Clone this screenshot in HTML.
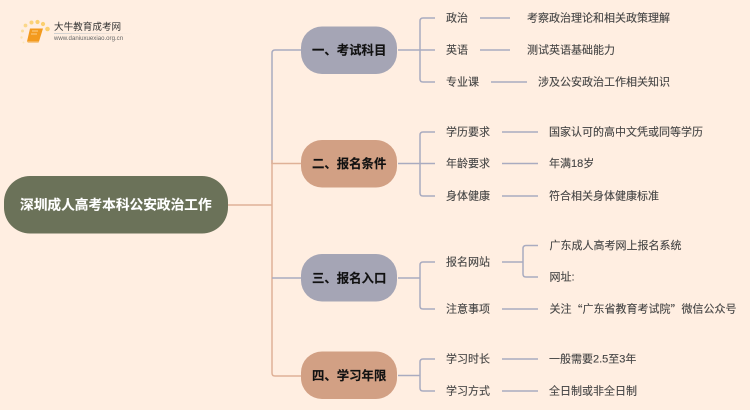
<!DOCTYPE html>
<html lang="zh">
<head>
<meta charset="utf-8">
<style>
html,body{margin:0;padding:0;background:#FFEEE1;}
svg{display:block;}
text{font-family:"Liberation Sans","Noto Sans CJK SC",sans-serif;transform:translateY(.7px);}
.l{font-size:11px;fill:#444;stroke:#444;stroke-width:.12;dominant-baseline:central;}
.b{font-size:12.4px;font-weight:700;fill:#111;stroke:#111;stroke-width:.15;dominant-baseline:central;}
.r{font-size:13.7px;font-weight:700;fill:#fff;stroke:#fff;stroke-width:.12;dominant-baseline:central;}
.v{fill:none;stroke:#A9ABC0;stroke-width:1.5;}
.p{fill:none;stroke:#DFB197;stroke-width:1.5;}
</style>
</head>
<body>
<svg width="750" height="410" viewBox="0 0 750 410" xmlns="http://www.w3.org/2000/svg">
<defs>
<linearGradient id="rule" x1="0" x2="1" y1="0" y2="0">
<stop offset="0" stop-color="#cfcfcf"/><stop offset="1" stop-color="#cfcfcf" stop-opacity="0"/>
</linearGradient>
</defs>
<rect width="750" height="410" fill="#FFEEE1"/>

<!-- logo -->
<g>
<circle cx="25.5" cy="25.5" r="1.9" fill="#FBD78A"/>
<circle cx="22.5" cy="31" r="1.5" fill="#FBDD9B"/>
<circle cx="21.5" cy="37.5" r="1.2" fill="#FBE3B0"/>
<circle cx="23.5" cy="42.5" r="1" fill="#FBE7BC"/>
<circle cx="31.5" cy="22.5" r="2" fill="#FBD278"/>
<circle cx="37.5" cy="22" r="2.1" fill="#FBCF6E"/>
<circle cx="43" cy="24" r="2.1" fill="#FBCF6E"/>
<circle cx="47.5" cy="29" r="2.3" fill="#FBCF6E"/>
<path d="M30 28.5H43L39 41.5H27Z" fill="#F39A1E"/>
<path d="M27 41.5H39L38.5 43H28Z" fill="#F7C98C"/>
<path d="M32 31H38M31 34H37" stroke="#FBCF8A" stroke-width="1" fill="none"/>
<text x="54" y="27" style="font-size:9.6px;fill:#333;dominant-baseline:central">大牛教育成考网</text>
<rect x="54" y="33" width="78" height="1" fill="url(#rule)"/>
<text x="54" y="38" style="font-size:6.1px;fill:#666;dominant-baseline:central">www.daniuxuexiao.org.cn</text>
</g>

<!-- trunk -->
<path class="v" d="M301 50H275Q272 50 272 53V164"/>
<path class="p" d="M272 160V373Q272 376 275 376H301"/>
<path class="p" d="M228 205H272"/>
<path class="p" d="M272 163.5H301"/>
<path class="v" d="M272 278H301"/>

<!-- branch 1 connectors -->
<path class="v" d="M398 50H435M435 18H423Q420 18 420 21V79Q420 82 423 82H435"/>
<path class="v" d="M480 18H510M480 50H510M491 82H527"/>
<!-- branch 2 connectors -->
<path class="v" d="M398 163.5H435M435 132H423Q420 132 420 135V193Q420 196 423 196H435"/>
<path class="v" d="M502 132H538M502 163.5H538M502 196H538"/>
<!-- branch 3 connectors -->
<path class="v" d="M398 278H420M435 262H423Q420 262 420 265V306Q420 309 423 309H435"/>
<path class="v" d="M502 262H523M538 245.5H526Q523 245.5 523 248.5V274Q523 277 526 277H538M502 309H538"/>
<!-- branch 4 connectors -->
<path class="v" d="M398 375.5H420M435 359H423Q420 359 420 362V388Q420 391 423 391H435"/>
<path class="v" d="M502 359H538M502 391H538"/>

<!-- root -->
<rect x="4" y="176" width="224" height="57.5" rx="26" fill="#6B7259"/>
<text class="r" x="20" y="204.5">深圳成人高考本科公安政治工作</text>

<!-- branches -->
<rect x="301" y="26.5" width="96" height="47.5" rx="21" fill="#A5A5B5"/>
<text class="b" x="312" y="50">一、考试科目</text>
<rect x="301" y="140" width="96" height="47.5" rx="21" fill="#D2A084"/>
<text class="b" x="312" y="163.5">二、报名条件</text>
<rect x="301" y="254" width="96" height="47.5" rx="21" fill="#A5A5B5"/>
<text class="b" x="312" y="278">三、报名入口</text>
<rect x="301" y="351.5" width="96" height="47.5" rx="21" fill="#D2A084"/>
<text class="b" x="312" y="375.5">四、学习年限</text>

<!-- level 2 -->
<text class="l" x="446" y="18">政治</text>
<text class="l" x="446" y="50">英语</text>
<text class="l" x="446" y="82">专业课</text>
<text class="l" x="446" y="132">学历要求</text>
<text class="l" x="446" y="163.5">年龄要求</text>
<text class="l" x="446" y="196">身体健康</text>
<text class="l" x="446" y="262">报名网站</text>
<text class="l" x="446" y="309">注意事项</text>
<text class="l" x="446" y="359">学习时长</text>
<text class="l" x="446" y="391">学习方式</text>

<!-- level 3 -->
<text class="l" x="527" y="18">考察政治理论和相关政策理解</text>
<text class="l" x="527" y="50">测试英语基础能力</text>
<text class="l" x="538" y="82">涉及公安政治工作相关知识</text>
<text class="l" x="549" y="132">国家认可的高中文凭或同等学历</text>
<text class="l" x="549" y="163.5">年满18岁</text>
<text class="l" x="549" y="196">符合相关身体健康标准</text>
<text class="l" x="549.5" y="245.5">广东成人高考网上报名系统</text>
<text class="l" x="549.5" y="277">网址:</text>
<text class="l" x="549.5" y="309">关注<tspan style="font-family:'Noto Sans CJK SC',sans-serif">“</tspan>广东省教育考试院<tspan style="font-family:'Noto Sans CJK SC',sans-serif">”</tspan>微信公众号</text>
<text class="l" x="549" y="359">一般需要2.5至3年</text>
<text class="l" x="549" y="391">全日制或非全日制</text>
</svg>
</body>
</html>
